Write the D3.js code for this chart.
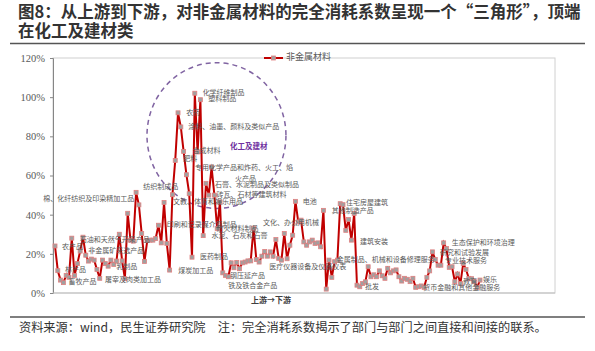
<!DOCTYPE html>
<html>
<head>
<meta charset="utf-8">
<script src="https://cdn.jsdelivr.net/npm/d3@7"></script>
<style>
  body { margin: 0; background: #fff; }
  svg { display: block; font-family: "Noto Sans CJK SC", "Noto Sans", sans-serif; }
</style>
</head>
<body>
<svg width="595" height="351"></svg>
<script>
// 非金属材料 完全消耗系数（%），按产业链从上游到下游排序
const values = [
  24, 11.4, 6.6, 5.3, 9, 8, 28, 9, 15, 21.4,
  28.5, 19.3, 16.3, 17.3, 16.8, 12, 7.5, 16.8, 15, 13.7,
  16.8, 14.6, 16.3, 30, 16.4, 7.3, 40.7, 27, 26.5, 51.4,
  45, 30.4, 16.1, 26.8, 27, 27, 27.8, 34.6, 25.6, 46.2,
  25.3, 11.7, 50.2, 67.7, 92, 84.8, 72.3, 60.4, 50.7, 18.3,
  102, 72, 98.7, 29.3, 56, 50, 64.3, 50, 33, 46.5,
  10.3, 9, 8.3, 15.4, 12.9, 15.6, 12.4, 15.4, 15.8, 16.4,
  16.4, 33.1, 17.1, 15.8, 18.8, 21.2, 18.8, 21, 18.8, 27.3,
  17.7, 16.8, 30.4, 17.5, 24.4, 29.5, 46.8, 36.3, 37.2, 26.1,
  24.4, 26.1, 27, 25.3, 25.6, 23.6, 42.2, 2, 16.8, 8,
  16, 16.8, 45.6, 45.1, 32, 37.5, 27, 40.6, 4, 3.2,
  4.8, 5.7, 13.4, 8.3, 9.3, 8.3, 11.3, 8.8, 7.5, 12.6,
  10.3, 11.3, 11.8, 8.3, 6.1, 7.5, 7, 5.8, 7.5, 2.9,
  3.2, 3.6, 2.9, 8, 11.3, 21, 17.1, 14.2, 14.2, 25.6,
  22.7, 13.1, 13.4, 5.8, 9.7, 4.9, 15.1, 12, 7.5, 7.3,
  5.8, 2.9, 6.6
];

const seriesName = "非金属材料";
const yTicks = [0, 20, 40, 60, 80, 100, 120];

// 部门标注文字
const labelTexts = [
  "化学纤维制品", "塑料制品", "农药", "涂料、油墨、颜料及类似产品", "合成材料",
  "肥料", "专用化学产品和炸药、火工、焰", "火产品", "石膏、水泥制品及类似制品", "砖瓦、石材等建筑材料",
  "纺织制成品", "棉、化纤纺织及印染精加工品", "文教、体育和娱乐用品", "印刷和记录媒介复制品", "耐火材料制品",
  "水泥、石灰和石膏", "医药制品", "煤炭加工品", "钢压延产品", "铁及铁合金产品",
  "医疗仪器设备及仪器仪表", "文化、办公用机械", "电池", "住宅房屋建筑", "其他制造产品",
  "建筑安装", "金属制品、机械和设备修理服务", "批发", "生态保护和环境治理", "研究和试验发展",
  "专业技术服务", "教育", "娱乐", "货币金融和其他金融服务", "农产品",
  "石油和天然气开采产品", "非金属矿采选产品", "林产品", "畜牧产品", "屠宰及肉类加工品",
  "乳制品"
];
// 标注位置（部门序号, 数值%）
const labelAt = [
  [52.8, 102.3], [54.8, 99.1], [46.9, 92.1], [47.7, 84.9], [49.2, 72.7],
  [45.9, 68.4], [50.1, 63.7], [64.4, 58.2], [57.2, 55.2], [57.8, 50.0],
  [31.6, 54.3], [-4.2, 48.0], [42.2, 46.6], [40.0, 34.5], [57.8, 32.5],
  [56.0, 29.3], [51.9, 18.4], [44.1, 11.4], [62.6, 8.7], [62.0, 3.6],
  [76.6, 13.4], [74.4, 35.7], [88.6, 46.3], [104.1, 45.8], [99.0, 42.0],
  [109.1, 26.2], [100.8, 16.9], [110.9, 3.2], [141.9, 25.4], [137.7, 20.6],
  [139.5, 16.5], [145.9, 5.8], [153.1, 6.6], [131.7, 2.4], [2.5, 23.5],
  [8.9, 27.1], [11.9, 21.4], [3.6, 11.7], [4.8, 5.8], [17.9, 6.6],
  [21.9, 13.4]
];

const svg = d3.select("svg");
const plot = {left: 53, right: 555, top: 58, bottom: 293};

const x = d3.scaleLinear()
  .domain([0, values.length - 1])
  .range([55, 480]);
const y = d3.scaleLinear()
  .domain([0, 120])
  .range([plot.bottom, plot.top]);

// 标题
const title = svg.append("g").attr("font-weight", "bold").attr("fill", "#333").style("font-size", "16.5px");
title.append("text").attr("x", 18).attr("y", 18)
  .text("图8：从上游到下游，对非金属材料的完全消耗系数呈现一个“三角形”，顶端");
title.append("text").attr("x", 18).attr("y", 37).text("在化工及建材类");
svg.append("line").attr("x1", 10).attr("x2", 585).attr("y1", 43.5).attr("y2", 43.5)
  .attr("stroke", "#555").attr("stroke-width", 1.5);

// 绘图区边框
svg.append("rect")
  .attr("x", plot.left).attr("y", plot.top)
  .attr("width", plot.right - plot.left).attr("height", plot.bottom - plot.top)
  .attr("fill", "none").attr("stroke", "#d0d0d0");

const yAxis = svg.append("g")
  .attr("transform", `translate(${plot.left},0)`)
  .call(d3.axisLeft(y).tickValues(yTicks).tickSize(3).tickPadding(5).tickFormat(d => d + "%"));
yAxis.select(".domain").attr("stroke", "#868686");
yAxis.selectAll(".tick line").attr("stroke", "#868686");
yAxis.selectAll("text").attr("fill", "#595959")
  .style("font-family", "'Liberation Serif', serif").style("font-size", "10.5px");

svg.append("line")
  .attr("x1", plot.left).attr("x2", plot.right)
  .attr("y1", plot.bottom).attr("y2", plot.bottom)
  .attr("stroke", "#bfbfbf");

svg.append("text")
  .attr("x", 271).attr("y", 303)
  .attr("text-anchor", "middle")
  .attr("font-weight", "bold").attr("fill", "#404040")
  .style("font-size", "8px")
  .text("上游→下游");

// 虚线圈
svg.append("ellipse")
  .attr("cx", (x(32.9) + x(82.6)) / 2).attr("cy", (y(43.2) + y(117.6)) / 2)
  .attr("rx", (x(82.6) - x(32.9)) / 2).attr("ry", (y(43.2) - y(117.6)) / 2)
  .attr("fill", "none").attr("stroke", "#8064a2")
  .attr("stroke-width", 1.5).attr("stroke-dasharray", "5,4");

// 折线
const line = d3.line().x((d, i) => x(i)).y(d => y(d));
svg.append("path")
  .datum(values)
  .attr("d", line)
  .attr("fill", "none").attr("stroke", "#c00000").attr("stroke-width", 2);

svg.append("g")
  .selectAll("rect")
  .data(values)
  .join("rect")
  .attr("x", (d, i) => x(i) - 2).attr("y", d => y(d) - 2)
  .attr("width", 4).attr("height", 4)
  .attr("fill", "#a0a0a0").attr("stroke", "#e08080").attr("stroke-width", 0.8);

// 部门标注
svg.append("g")
  .selectAll("text")
  .data(labelTexts)
  .join("text")
  .attr("x", (d, i) => x(labelAt[i][0]))
  .attr("y", (d, i) => y(labelAt[i][1]))
  .attr("dominant-baseline", "middle")
  .attr("fill", "#595959")
  .style("font-size", "7px")
  .text(d => d);

svg.append("text")
  .attr("x", x(62.6)).attr("y", y(74.5))
  .attr("dominant-baseline", "middle")
  .attr("fill", "#7030a0").attr("font-weight", "bold")
  .style("font-size", "7.5px")
  .text("化工及建材");

// 图例
const legend = svg.append("g").attr("transform", `translate(264,${plot.top})`);
legend.append("line").attr("x1", 0).attr("x2", 19).attr("stroke", "#c00000").attr("stroke-width", 2);
legend.append("rect").attr("x", 7.5).attr("y", -2).attr("width", 4).attr("height", 4)
  .attr("fill", "#a0a0a0").attr("stroke", "#e08080").attr("stroke-width", 0.8);
legend.append("text").attr("x", 22).attr("dominant-baseline", "middle")
  .attr("fill", "#595959").style("font-size", "9px").text(seriesName);

// 来源
svg.append("line").attr("x1", 10).attr("x2", 585).attr("y1", 317).attr("y2", 317)
  .attr("stroke", "#555").attr("stroke-width", 1.5);
svg.append("text")
  .attr("x", 19).attr("y", 332)
  .attr("fill", "#333")
  .style("font-size", "12.2px")
  .text("资料来源：wind，民生证券研究院　注：完全消耗系数揭示了部门与部门之间直接和间接的联系。");
</script>
</body>
</html>
